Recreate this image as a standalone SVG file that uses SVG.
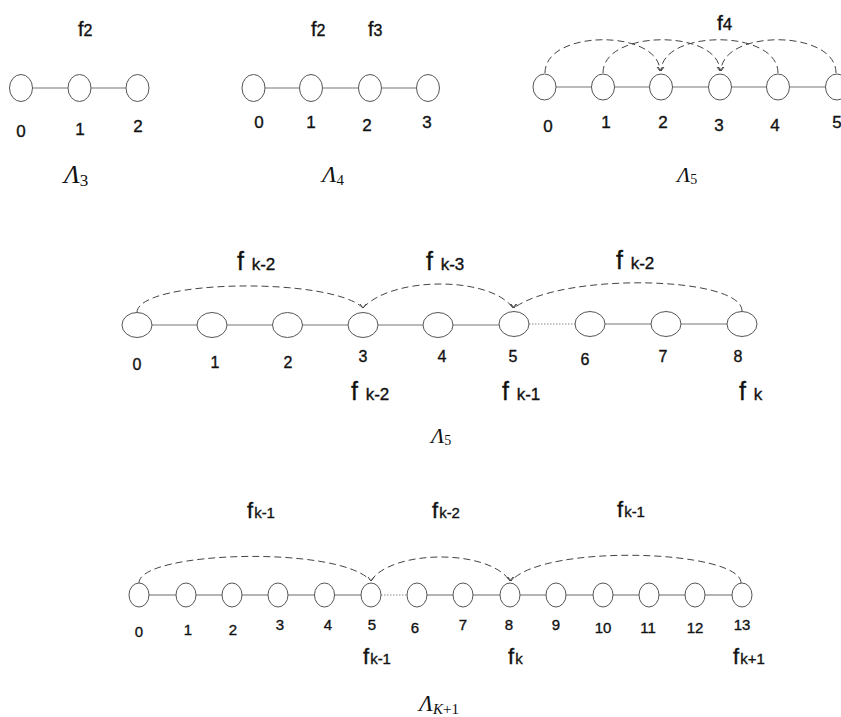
<svg xmlns="http://www.w3.org/2000/svg" width="841" height="717" viewBox="0 0 841 717">
<style>
.n{fill:#fff;stroke:#555;stroke-width:1}
.e{stroke:#777;stroke-width:1.1;fill:none}
.dot{stroke:#888;stroke-width:1.1;stroke-dasharray:1.5 1.5;fill:none}
.arc{stroke:#444;stroke-width:1;stroke-dasharray:7 4;fill:none}
.arrow{marker-end:url(#v)}
.d{font-family:"Liberation Sans",Arial,sans-serif;font-size:17px;fill:#111;stroke:#111;stroke-width:0.35;text-anchor:middle}
.dm{font-family:"Liberation Sans",Arial,sans-serif;font-size:16px;fill:#111;stroke:#111;stroke-width:0.35;text-anchor:middle}
.db{font-family:"Liberation Sans",Arial,sans-serif;font-size:15px;fill:#111;stroke:#111;stroke-width:0.35;text-anchor:middle}
.f{font-family:"Liberation Sans",Arial,sans-serif;fill:#111;stroke:#111;stroke-width:0.35}
.L{font-family:"Liberation Serif","Times New Roman",serif;fill:#111}
</style>
<defs>
<marker id="v" markerUnits="userSpaceOnUse" markerWidth="10" markerHeight="10" refX="5" refY="5" orient="90" viewBox="0 0 10 10">
<path d="M1,2 L5,5 L1,8" fill="none" stroke="#444" stroke-width="1"/>
</marker>
</defs>

<!-- connectors -->
<g id="connectors">
<line class="e" x1="33" y1="88" x2="68" y2="88"/>
<line class="e" x1="91" y1="88" x2="126" y2="88"/>
<line class="e" x1="265" y1="88" x2="299" y2="88"/>
<line class="e" x1="323" y1="88" x2="358" y2="88"/>
<line class="e" x1="382" y1="88" x2="416" y2="88"/>
<line class="e" x1="556" y1="87" x2="591" y2="87"/>
<line class="e" x1="615" y1="87" x2="649" y2="87"/>
<line class="e" x1="673" y1="87" x2="708" y2="87"/>
<line class="e" x1="732" y1="87" x2="766" y2="87"/>
<line class="e" x1="790" y1="87" x2="825" y2="87"/>
<path class="arc arrow" d="M545 73 C545 29, 659 29, 660 71"/>
<path class="arc arrow" d="M603 73 C603 29, 719 29, 720 71"/>
<path class="arc arrow" d="M778 73 C778 29, 662 29, 661 71"/>
<path class="arc arrow" d="M836 73 C836 29, 722 29, 721 71"/>
<line class="e" x1="152" y1="325" x2="197" y2="325"/>
<line class="e" x1="227" y1="325" x2="272" y2="325"/>
<line class="e" x1="302" y1="325" x2="348" y2="325"/>
<line class="e" x1="378" y1="325" x2="423" y2="325"/>
<line class="e" x1="453" y1="325" x2="499" y2="325"/>
<line class="dot" x1="529" y1="324" x2="575" y2="324"/>
<line class="e" x1="605" y1="324" x2="651" y2="324"/>
<line class="e" x1="681" y1="324" x2="727" y2="324"/>
<path class="arc arrow" d="M137 312 C140 279, 332 277, 363 308"/>
<path class="arc arrow" d="M363 308 C392 276, 490 276, 513 308"/>
<path class="arc arrow" d="M742 311 C742 276, 562 272, 514 308"/>
<line class="e" x1="149" y1="595" x2="176" y2="595"/>
<line class="e" x1="196" y1="595" x2="222" y2="595"/>
<line class="e" x1="242" y1="595" x2="268" y2="595"/>
<line class="e" x1="288" y1="595" x2="315" y2="595"/>
<line class="e" x1="334" y1="595" x2="361" y2="595"/>
<line class="dot" x1="381" y1="595" x2="407" y2="595"/>
<line class="e" x1="427" y1="595" x2="453" y2="595"/>
<line class="e" x1="473" y1="595" x2="500" y2="595"/>
<line class="e" x1="520" y1="595" x2="546" y2="595"/>
<line class="e" x1="566" y1="595" x2="593" y2="595"/>
<line class="e" x1="613" y1="595" x2="639" y2="595"/>
<line class="e" x1="659" y1="595" x2="685" y2="595"/>
<line class="e" x1="705" y1="595" x2="732" y2="595"/>
<path class="arc arrow" d="M139 583 C139 551, 340 545, 371 581"/>
<path class="arc arrow" d="M371 581 C390 550, 488 548, 510 581"/>
<path class="arc arrow" d="M741 583 C741 550, 545 543, 511 581"/>
</g>

<g id="L3">
<g id="L3n0"><ellipse class="n" cx="21" cy="88" rx="11.5" ry="13.5"/><text class="d" x="21" y="137">0</text></g>
<g id="L3n1"><ellipse class="n" cx="79.5" cy="88" rx="11.5" ry="13.5"/><text class="d" x="80" y="135">1</text></g>
<g id="L3n2"><ellipse class="n" cx="137.5" cy="88" rx="11.5" ry="13.5"/><text class="d" x="138" y="132">2</text></g>
<text class="f" x="78" y="36"><tspan font-size="20">f</tspan><tspan font-size="16">2</tspan></text>
<text class="L" x="64" y="183"><tspan font-size="26" font-style="italic">Λ</tspan><tspan font-size="17" dy="3">3</tspan></text>
</g>

<g id="L4">
<g id="L4n0"><ellipse class="n" cx="253.5" cy="88" rx="11.5" ry="13.5"/><text class="d" x="259" y="128">0</text></g>
<g id="L4n1"><ellipse class="n" cx="311" cy="88" rx="11.5" ry="13.5"/><text class="d" x="311" y="128">1</text></g>
<g id="L4n2"><ellipse class="n" cx="370" cy="88" rx="11.5" ry="13.5"/><text class="d" x="367" y="131">2</text></g>
<g id="L4n3"><ellipse class="n" cx="428" cy="88" rx="11.5" ry="13.5"/><text class="d" x="427" y="128">3</text></g>
<text class="f" x="311" y="36"><tspan font-size="20">f</tspan><tspan font-size="16">2</tspan></text>
<text class="f" x="368" y="36"><tspan font-size="20">f</tspan><tspan font-size="16">3</tspan></text>
<text class="L" x="322" y="182"><tspan font-size="24" font-style="italic">Λ</tspan><tspan font-size="15" dy="3">4</tspan></text>
</g>

<g id="L5a">
<g id="L5an0"><ellipse class="n" cx="544.5" cy="87" rx="11.5" ry="13"/><text class="d" x="548" y="132">0</text></g>
<g id="L5an1"><ellipse class="n" cx="603" cy="87" rx="11.5" ry="13"/><text class="d" x="606" y="128">1</text></g>
<g id="L5an2"><ellipse class="n" cx="661" cy="87" rx="11.5" ry="13"/><text class="d" x="663" y="128">2</text></g>
<g id="L5an3"><ellipse class="n" cx="720" cy="87" rx="11.5" ry="13"/><text class="d" x="719" y="131">3</text></g>
<g id="L5an4"><ellipse class="n" cx="778" cy="87" rx="11.5" ry="13"/><text class="d" x="775" y="131">4</text></g>
<g id="L5an5"><ellipse class="n" cx="837" cy="87" rx="11.5" ry="13"/><text class="d" x="837" y="128">5</text></g>
<text class="f" x="717" y="30"><tspan font-size="21">f</tspan><tspan font-size="17">4</tspan></text>
<text class="L" x="677" y="182"><tspan font-size="22" font-style="italic">Λ</tspan><tspan font-size="14" dy="2">5</tspan></text>
</g>

<g id="L5b">
<g id="L5bn0"><ellipse class="n" cx="137" cy="325" rx="15" ry="12.5"/><text class="dm" x="137" y="370">0</text></g>
<g id="L5bn1"><ellipse class="n" cx="212" cy="325" rx="15" ry="12.5"/><text class="dm" x="215" y="368">1</text></g>
<g id="L5bn2"><ellipse class="n" cx="287.5" cy="325" rx="15" ry="12.5"/><text class="dm" x="288" y="368">2</text></g>
<g id="L5bn3"><ellipse class="n" cx="363" cy="325" rx="15" ry="12.5"/><text class="dm" x="363" y="362">3</text></g>
<g id="L5bn4"><ellipse class="n" cx="438" cy="325" rx="15" ry="12.5"/><text class="dm" x="442" y="362">4</text></g>
<g id="L5bn5"><ellipse class="n" cx="514" cy="324" rx="15" ry="12.5"/><text class="dm" x="513" y="362">5</text></g>
<g id="L5bn6"><ellipse class="n" cx="590" cy="324" rx="15" ry="12.5"/><text class="dm" x="585" y="365">6</text></g>
<g id="L5bn7"><ellipse class="n" cx="666" cy="324" rx="15" ry="12.5"/><text class="dm" x="663" y="362">7</text></g>
<g id="L5bn8"><ellipse class="n" cx="742" cy="324" rx="15" ry="12.5"/><text class="dm" x="738" y="362">8</text></g>
<text class="f" x="237" y="270"><tspan font-size="25">f</tspan><tspan font-size="17" dx="3"> k-2</tspan></text>
<text class="f" x="426" y="270"><tspan font-size="25">f</tspan><tspan font-size="17" dx="3"> k-3</tspan></text>
<text class="f" x="616" y="269"><tspan font-size="25">f</tspan><tspan font-size="17" dx="3"> k-2</tspan></text>
<text class="f" x="351" y="400"><tspan font-size="25">f</tspan><tspan font-size="17" dx="3"> k-2</tspan></text>
<text class="f" x="502" y="400"><tspan font-size="25">f</tspan><tspan font-size="17" dx="3"> k-1</tspan></text>
<text class="f" x="739" y="400"><tspan font-size="25">f</tspan><tspan font-size="17" dx="3"> k</tspan></text>
<text class="L" x="431" y="443"><tspan font-size="22" font-style="italic">Λ</tspan><tspan font-size="14" dy="2">5</tspan></text>
</g>

<g id="LK">
<g id="LKn0"><ellipse class="n" cx="139" cy="595" rx="10" ry="12"/><text class="db" x="139" y="637">0</text></g>
<g id="LKn1"><ellipse class="n" cx="186" cy="595" rx="10" ry="12"/><text class="db" x="188" y="635">1</text></g>
<g id="LKn2"><ellipse class="n" cx="232" cy="595" rx="10" ry="12"/><text class="db" x="233" y="635">2</text></g>
<g id="LKn3"><ellipse class="n" cx="278" cy="595" rx="10" ry="12"/><text class="db" x="280" y="630">3</text></g>
<g id="LKn4"><ellipse class="n" cx="324.5" cy="595" rx="10" ry="12"/><text class="db" x="328" y="630">4</text></g>
<g id="LKn5"><ellipse class="n" cx="371" cy="595" rx="10" ry="12"/><text class="db" x="372" y="630">5</text></g>
<g id="LKn6"><ellipse class="n" cx="417" cy="595" rx="10" ry="12"/><text class="db" x="415" y="633">6</text></g>
<g id="LKn7"><ellipse class="n" cx="463" cy="595" rx="10" ry="12"/><text class="db" x="463" y="630">7</text></g>
<g id="LKn8"><ellipse class="n" cx="510" cy="595" rx="10" ry="12"/><text class="db" x="509" y="630">8</text></g>
<g id="LKn9"><ellipse class="n" cx="556" cy="595" rx="10" ry="12"/><text class="db" x="556" y="630">9</text></g>
<g id="LKn10"><ellipse class="n" cx="603" cy="595" rx="10" ry="12"/><text class="db" x="603" y="633">10</text></g>
<g id="LKn11"><ellipse class="n" cx="649" cy="595" rx="10" ry="12"/><text class="db" x="648" y="633">11</text></g>
<g id="LKn12"><ellipse class="n" cx="695" cy="595" rx="10" ry="12"/><text class="db" x="695" y="633">12</text></g>
<g id="LKn13"><ellipse class="n" cx="742" cy="595" rx="10" ry="12"/><text class="db" x="742" y="630">13</text></g>
<text class="f" x="247" y="518"><tspan font-size="22">f</tspan><tspan font-size="15" dx="1">k-1</tspan></text>
<text class="f" x="432" y="518"><tspan font-size="22">f</tspan><tspan font-size="15" dx="1">k-2</tspan></text>
<text class="f" x="617" y="517"><tspan font-size="22">f</tspan><tspan font-size="15" dx="1">k-1</tspan></text>
<text class="f" x="363" y="664"><tspan font-size="22">f</tspan><tspan font-size="15" dx="1">k-1</tspan></text>
<text class="f" x="508" y="664"><tspan font-size="22">f</tspan><tspan font-size="15" dx="1">k</tspan></text>
<text class="f" x="733" y="664"><tspan font-size="22">f</tspan><tspan font-size="15" dx="1">k+1</tspan></text>
<text class="L" x="419" y="711"><tspan font-size="23" font-style="italic">Λ</tspan><tspan font-size="15" dy="3" font-style="italic">K</tspan><tspan font-size="15">+1</tspan></text>
</g>
</svg>
